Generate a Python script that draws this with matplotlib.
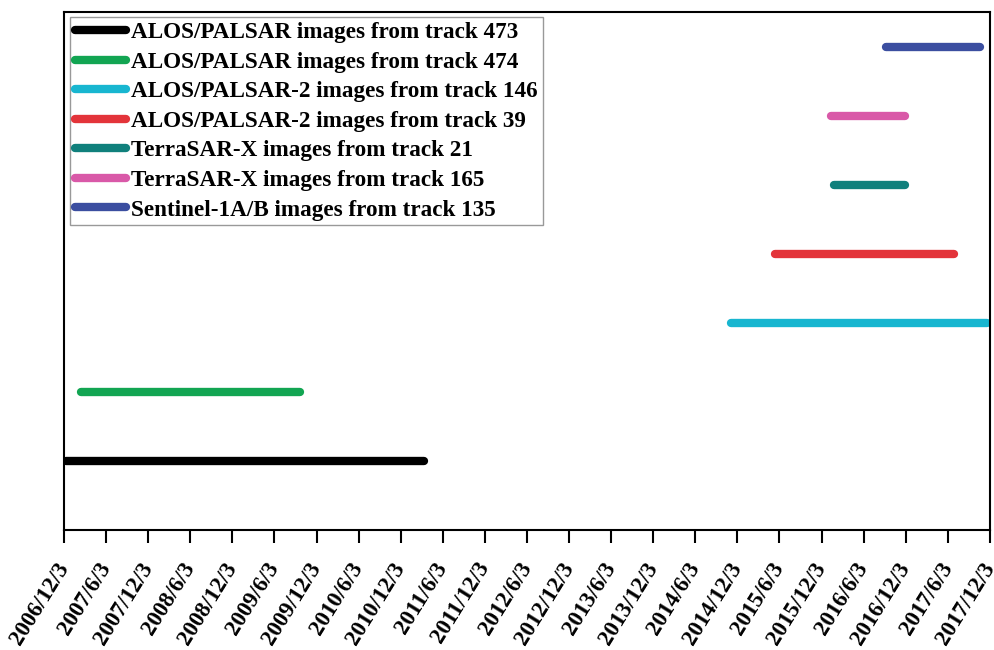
import matplotlib
matplotlib.use("Agg")
import matplotlib.pyplot as plt
import pandas as pd

labels = ["ALOS/PALSAR images from track 473",
          "ALOS/PALSAR images from track 474",
          "ALOS/PALSAR-2 images from track 146",
          "ALOS/PALSAR-2 images from track 39",
          "TerraSAR-X images from track 21",
          "TerraSAR-X images from track 165",
          "Sentinel-1A/B images from track 135"]
starts = ["2006-12-10", "2007-02-15", "2014-11-03", "2015-05-17",
          "2016-01-24", "2016-01-11", "2016-09-06"]
ends = ["2011-03-13", "2009-09-22", "2017-11-19", "2017-06-28",
        "2016-11-28", "2016-11-28", "2017-10-19"]
levels = [1, 2, 3, 4, 5, 6, 7]
colors = ["#000000", "#12a552", "#18b6d0", "#e3343a",
          "#10807c", "#d959a8", "#3b4ea0"]

tick_dates = pd.date_range("2006-12-03", periods=23, freq=pd.DateOffset(months=6))
tick_labels = [f"{d.year}/{d.month}/{d.day}" for d in tick_dates]

plt.rcParams['font.family'] = ['Liberation Serif', 'DejaVu Serif']
plt.rcParams['font.weight'] = 'bold'

fig = plt.figure(figsize=(9.94, 6.5), dpi=100)
ax = fig.add_axes([0.0644, 0.1846, 0.9316, 0.7969])

for lab, s, e, y, c in zip(labels, starts, ends, levels, colors):
    ax.plot([pd.Timestamp(s), pd.Timestamp(e)], [y, y], color=c, lw=6,
            solid_capstyle='round', label=lab)

ax.set_xlim(tick_dates[0], tick_dates[-1])
ax.set_ylim(0, 7.5)
ax.set_xticks(tick_dates)
ax.set_xticklabels(tick_labels, rotation=58, ha='right', va='center',
                   rotation_mode='anchor', fontsize=16.5, fontweight='bold')
ax.set_yticks([])
ax.tick_params(axis='x', direction='out', length=9.5, width=1.5, pad=15)
for sp in ax.spines.values():
    sp.set_linewidth(1.5)

leg = ax.legend(loc='upper left', bbox_to_anchor=(0.0065, 0.99),
                prop={'weight': 'bold', 'size': 16.7},
                handlelength=2.2, labelspacing=0.36, handletextpad=0.25,
                borderpad=0.2, borderaxespad=0, fancybox=False, framealpha=1,
                edgecolor='#999999')
leg.get_frame().set_linewidth(1.0)

plt.savefig("out.png", dpi=100)
